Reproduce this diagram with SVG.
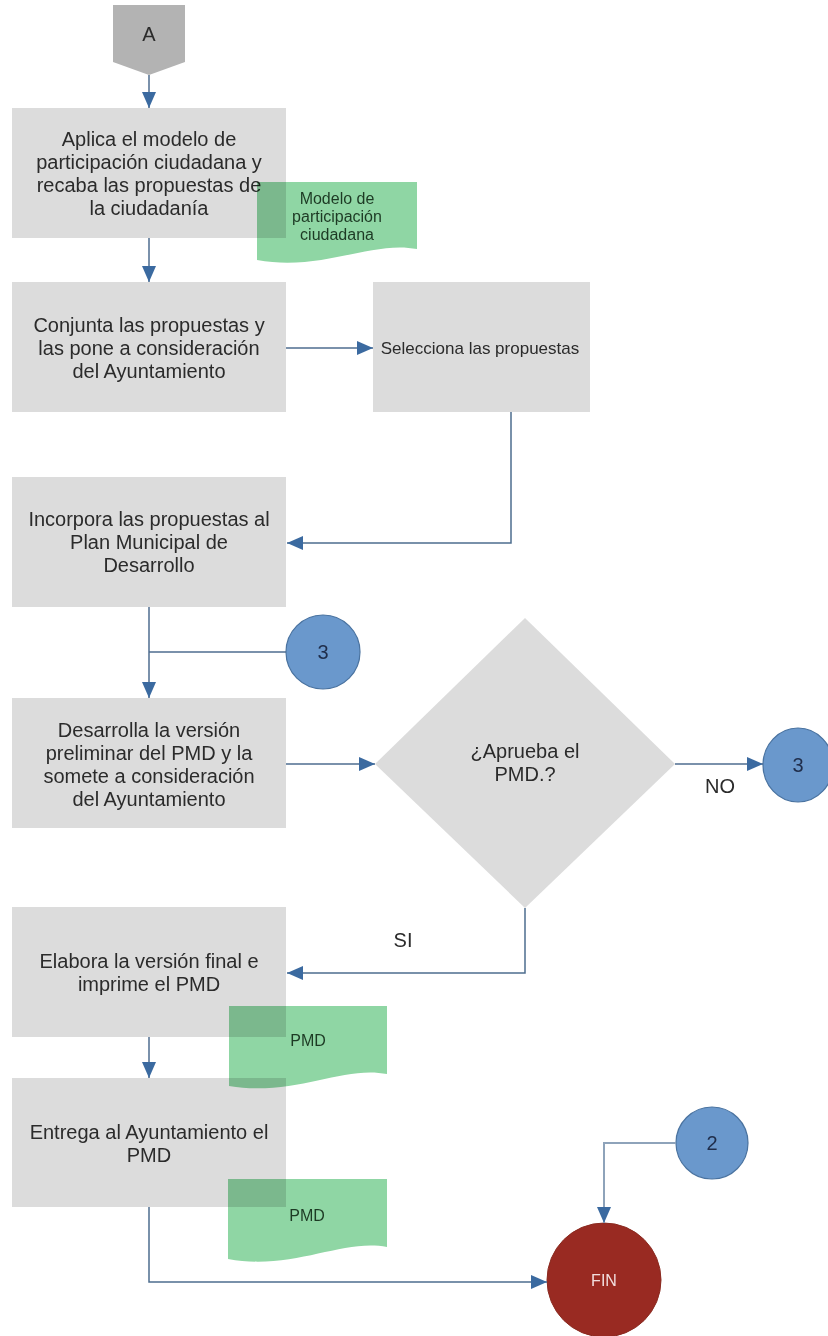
<svg xmlns="http://www.w3.org/2000/svg" width="828" height="1336" viewBox="0 0 828 1336">
<style>
  .box { fill: #dcdcdc; }
  .doc { fill: #8fd6a4; mix-blend-mode: multiply; }
  .t { font-family: "Liberation Sans", Arial, sans-serif; font-size: 20px; fill: #2b2b2b; text-anchor: middle; }
  .ts { font-family: "Liberation Sans", Arial, sans-serif; font-size: 16px; fill: #1d3a24; text-anchor: middle; }
  .conn { fill: #6a98cc; stroke: #4a73a0; stroke-width: 1.2; }
  .ct { font-family: "Liberation Sans", Arial, sans-serif; font-size: 20px; fill: #1f2d4a; text-anchor: middle; }
  .ln { fill: none; stroke: #4e6d8f; stroke-width: 1.5; }
  .ln2 { fill: none; stroke: #8ea3ba; stroke-width: 2; }
</style>
<defs>
  <marker id="ah" markerUnits="userSpaceOnUse" markerWidth="16" markerHeight="14" refX="16" refY="7" orient="auto">
    <path d="M0,0 L16,7 L0,14 Z" fill="#3b6aa0"/>
  </marker>
</defs>
<rect width="828" height="1336" fill="#ffffff"/>

<g id="start-A">
  <path d="M113,5 H185 V62 L149,75 L113,62 Z" fill="#b3b3b3"/>
  <text class="t" x="149" y="41">A</text>
</g>

<g id="box1">
  <rect class="box" x="12" y="108" width="274" height="130"/>
  <text class="t" x="149" y="146">Aplica el modelo de</text>
  <text class="t" x="149" y="169">participación ciudadana y</text>
  <text class="t" x="149" y="192">recaba las propuestas de</text>
  <text class="t" x="149" y="215">la ciudadanía</text>
</g>

<g id="box2">
  <rect class="box" x="12" y="282" width="274" height="130"/>
  <text class="t" x="149" y="332">Conjunta las propuestas y</text>
  <text class="t" x="149" y="355">las pone a consideración</text>
  <text class="t" x="149" y="378">del Ayuntamiento</text>
</g>

<g id="box3">
  <rect class="box" x="373" y="282" width="217" height="130"/>
  <text class="t" x="480" y="354" style="font-size:17px">Selecciona las propuestas</text>
</g>

<g id="box4">
  <rect class="box" x="12" y="477" width="274" height="130"/>
  <text class="t" x="149" y="526">Incorpora las propuestas al</text>
  <text class="t" x="149" y="549">Plan Municipal de</text>
  <text class="t" x="149" y="572">Desarrollo</text>
</g>

<g id="box5">
  <rect class="box" x="12" y="698" width="274" height="130"/>
  <text class="t" x="149" y="737">Desarrolla la versión</text>
  <text class="t" x="149" y="760">preliminar del PMD y la</text>
  <text class="t" x="149" y="783">somete a consideración</text>
  <text class="t" x="149" y="806">del Ayuntamiento</text>
</g>

<g id="decision">
  <path d="M525,618 L675,764 L525,908 L375,764 Z" fill="#dcdcdc"/>
  <text class="t" x="525" y="758">¿Aprueba el</text>
  <text class="t" x="525" y="781">PMD.?</text>
</g>

<g id="box6">
  <rect class="box" x="12" y="907" width="274" height="130"/>
  <text class="t" x="149" y="968">Elabora la versión final e</text>
  <text class="t" x="149" y="991">imprime el PMD</text>
</g>

<g id="box7">
  <rect class="box" x="12" y="1078" width="274" height="129"/>
  <text class="t" x="149" y="1139">Entrega al Ayuntamiento el</text>
  <text class="t" x="149" y="1162">PMD</text>
</g>

<g id="doc-modelo">
  <path class="doc" d="M257,182 H417 V249 C372,240 322,272 257,260 Z"/>
  <text class="ts" x="337" y="204">Modelo de</text>
  <text class="ts" x="337" y="222">participación</text>
  <text class="ts" x="337" y="240">ciudadana</text>
</g>

<g id="doc-pmd1">
  <path class="doc" d="M229,1006 H387 V1074 C343,1065 294,1097 229,1086 Z"/>
  <text class="ts" x="308" y="1046">PMD</text>
</g>

<g id="doc-pmd2">
  <path class="doc" d="M228,1179 H387 V1247 C343,1238 293,1271 228,1259 Z"/>
  <text class="ts" x="307" y="1221">PMD</text>
</g>

<g id="conn-3a">
  <ellipse class="conn" cx="323" cy="652" rx="37" ry="37"/>
  <text class="ct" x="323" y="659">3</text>
</g>

<g id="conn-3b">
  <ellipse class="conn" cx="798" cy="765" rx="35" ry="37"/>
  <text class="ct" x="798" y="772">3</text>
</g>

<g id="conn-2">
  <ellipse class="conn" cx="712" cy="1143" rx="36" ry="36"/>
  <text class="ct" x="712" y="1150">2</text>
</g>

<g id="end-FIN">
  <ellipse cx="604" cy="1280" rx="57" ry="57" fill="#992a22" stroke="#8a2a20" stroke-width="1"/>
  <text x="604" y="1286" font-family="Liberation Sans, Arial, sans-serif" font-size="16" fill="#f2dede" text-anchor="middle">FIN</text>
</g>

<g id="connectors">
  <path class="ln" d="M149,75 V108" marker-end="url(#ah)"/>
  <path class="ln" d="M149,238 V282" marker-end="url(#ah)"/>
  <path class="ln" d="M286,348 H373" marker-end="url(#ah)"/>
  <path class="ln" d="M511,412 V543 H287" marker-end="url(#ah)"/>
  <path class="ln" d="M149,607 V698" marker-end="url(#ah)"/>
  <path class="ln" d="M286,652 H149"/>
  <path class="ln" d="M286,764 H375" marker-end="url(#ah)"/>
  <path class="ln" d="M675,764 H763" marker-end="url(#ah)"/>
  <path class="ln" d="M525,908 V973 H287" marker-end="url(#ah)"/>
  <path class="ln" d="M149,1037 V1078" marker-end="url(#ah)"/>
  <path class="ln" d="M149,1207 V1282 H547" marker-end="url(#ah)"/>
  <path class="ln2" d="M676,1143 H604 V1223" marker-end="url(#ah)"/>
  <text class="t" x="720" y="793">NO</text>
  <text class="t" x="403" y="947">SI</text>
</g>
</svg>
